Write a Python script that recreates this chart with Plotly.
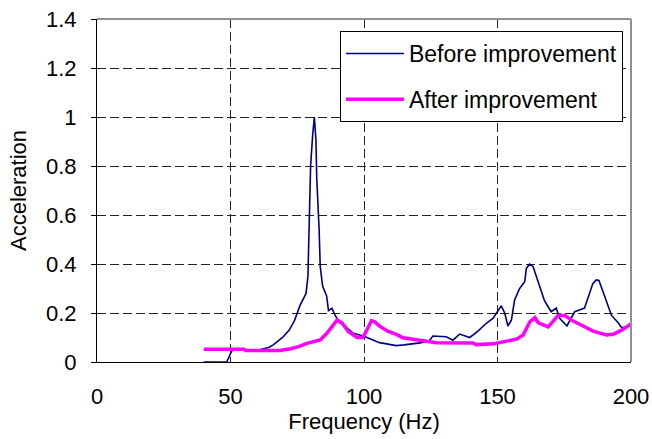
import plotly.graph_objects as go

# Before improvement (Hz, acceleration)
freq_before = [40, 48.6, 50.5, 52, 61, 64.5, 66, 69.5, 72, 74, 76, 78.3, 79, 79.4, 80, 80.8, 81.4, 82, 82.3, 83.2,
               83.6, 84.5, 86, 86.7, 88, 89.2, 91, 92.4, 96, 100, 103, 105.8, 108, 112, 115, 118, 121, 124.5, 125.8,
               130.8, 133.3, 135.8, 139.6, 142.7, 145.8, 148.3, 151.4, 152.7, 153.9, 155.2, 156.4, 158.3, 160.2,
               160.8, 162, 163.3, 165.1, 167.6, 170.1, 172, 173.3, 176, 178.9, 182.6, 185.7, 187, 188, 190.2,
               192.7, 195.2, 196.5, 199.7]
acc_before = [0, 0, 0.046, 0.05, 0.05, 0.06, 0.07, 0.10, 0.13, 0.17, 0.23, 0.28, 0.35, 0.57, 0.80, 0.93, 1.0, 0.906,
              0.75, 0.54, 0.39, 0.31, 0.27, 0.21, 0.22, 0.19, 0.16, 0.15, 0.117, 0.105, 0.092, 0.079, 0.075, 0.067,
              0.07, 0.073, 0.078, 0.087, 0.106, 0.103, 0.089, 0.114, 0.10, 0.126, 0.158, 0.178, 0.229, 0.20, 0.147,
              0.171, 0.253, 0.30, 0.328, 0.382, 0.40, 0.39, 0.33, 0.25, 0.205, 0.22, 0.178, 0.147, 0.205, 0.22,
              0.32, 0.335, 0.333, 0.263, 0.19, 0.16, 0.14, 0.147]

# After improvement
freq_after = [40, 55, 55.7, 67, 68.6, 72.4, 75.5, 78.6, 83.6, 86.1, 88, 89.9, 91.7, 94.2, 97.4, 99.6, 101.5, 102.8,
              104, 105.8, 108.9, 112.1, 114.6, 119.6, 127.1, 140.8, 142, 148.3, 152.1, 157.1, 159.6, 162.1, 164,
              165.3, 169, 170.8, 172.7, 175.2, 178.3, 182.1, 185.8, 190.8, 193.3, 196.5, 200]
acc_after = [0.052, 0.052, 0.047, 0.05, 0.047, 0.054, 0.063, 0.076, 0.09, 0.117, 0.144, 0.171, 0.16, 0.124, 0.10,
             0.10, 0.14, 0.169, 0.164, 0.147, 0.126, 0.113, 0.099, 0.09, 0.079, 0.078, 0.071, 0.074, 0.083, 0.093,
             0.11, 0.164, 0.181, 0.16, 0.143, 0.164, 0.19, 0.19, 0.167, 0.147, 0.126, 0.11, 0.113, 0.13, 0.155]

x_ticks = [0, 50, 100, 150, 200]
y_ticks = [0, 0.2, 0.4, 0.6, 0.8, 1.0, 1.2, 1.4]
y_labels = ["0", "0.2", "0.4", "0.6", "0.8", "1", "1.2", "1.4"]

FONT = "Liberation Sans, Arial, sans-serif"

fig = go.Figure()
fig.add_trace(go.Scatter(x=freq_before, y=acc_before, mode="lines", name="Before improvement",
                         line=dict(color="#000080", width=1.6), legendgroup="a"))
fig.add_trace(go.Scatter(x=freq_after, y=acc_after, mode="lines", name="After improvement",
                         line=dict(color="#FF00FF", width=3.5), legendgroup="b"))

fig.update_layout(
    width=652, height=439,
    margin=dict(l=97, r=21, t=19, b=77, autoexpand=False),
    paper_bgcolor="white", plot_bgcolor="white",
    font=dict(family=FONT, size=22, color="black"),
    showlegend=True,
    legend=dict(x=0.455, y=0.965, xanchor="left", yanchor="top",
                bgcolor="white", bordercolor="black", borderwidth=1,
                font=dict(size=23), tracegroupgap=13, itemwidth=58),
    xaxis=dict(range=[0, 200], tickvals=x_ticks, showline=True, linecolor="black", linewidth=1,
               showgrid=True, gridcolor="#222", griddash="9px,4px", gridwidth=1, automargin=False,
               ticks="", ticklabelstandoff=15, zeroline=False,
               title=dict(text="Frequency (Hz)", standoff=1, font=dict(size=22))),
    yaxis=dict(range=[0, 1.4], tickvals=y_ticks, ticktext=y_labels, showline=True, linecolor="black",
               linewidth=1, showgrid=True, gridcolor="#222", griddash="9px,4px", gridwidth=1, automargin=False,
               ticks="outside", ticklen=5, tickcolor="black", ticklabelstandoff=10, zeroline=False,
               title=dict(text="Acceleration", standoff=13, font=dict(size=22))),
)

# gray frame on top and right of plot area
fig.add_shape(type="line", xref="paper", yref="paper", x0=0, x1=1, y0=1, y1=1,
              line=dict(color="#909090", width=2))
fig.add_shape(type="line", xref="paper", yref="paper", x0=1, x1=1, y0=0, y1=1,
              line=dict(color="#909090", width=2))

fig.write_html("out.html", config={"displayModeBar": False},
               post_script="document.body.style.margin='0';document.body.style.padding='0';")
